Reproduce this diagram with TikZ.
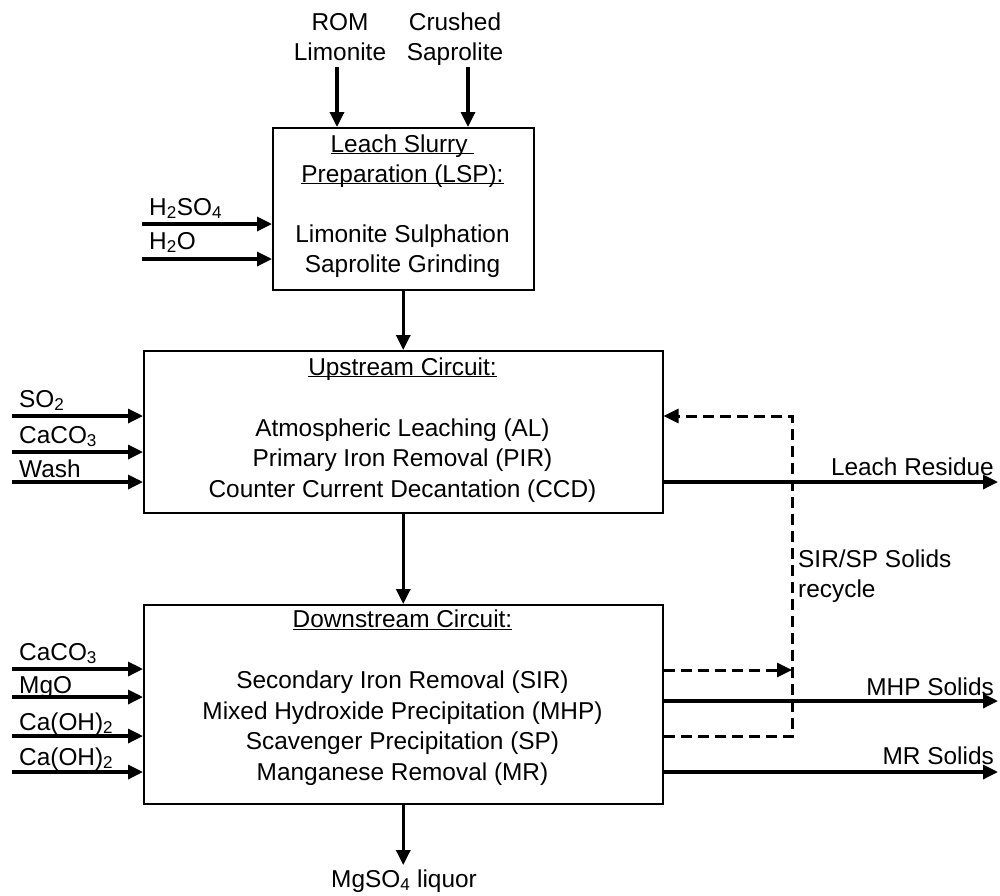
\documentclass[tikz,border=0pt]{standalone}
\usepackage{fontspec}
\setmainfont{Liberation Sans}
\usetikzlibrary{arrows.meta}
\newcommand\myul[1]{\underline{\raisebox{0pt}[\height][0pt]{#1}}}
\begin{document}
\begin{tikzpicture}[x=1pt,y=-1pt,
  every node/.style={font=\fontsize{24.4pt}{30pt}\selectfont, inner sep=0pt},
  txt/.style={anchor=base},
  lbl/.style={anchor=base west},
  rlbl/.style={anchor=base east},
  box/.style={draw, line width=1.5pt, anchor=north west},
  arr/.style={line width=3.3pt, -{Triangle[length=15pt,width=14pt]}},
  dsh/.style={line width=3pt, dash pattern=on 11pt off 6pt},
  dsharr/.style={dsh, -{Triangle[length=15pt,width=14pt]}}]
\useasboundingbox (0,0) rectangle (1000,895);

% boxes
\node[box, minimum width=261pt, minimum height=162pt] (lsp) at (272,127) {};
\node[box, minimum width=519pt, minimum height=162pt] (up) at (143,350) {};
\node[box, minimum width=519pt, minimum height=199pt] (down) at (143,604) {};

% LSP text
\node[txt] (lspA) at (402.5,152) {\myul{Leach Slurry\ }};
\node[txt] (lspB) at (402.5,182) {\myul{Preparation (LSP):}};
\node[txt] (lspC) at (402.5,242) {Limonite Sulphation};
\node[txt] (lspD) at (402.5,272) {Saprolite Grinding};

% Upstream text
\node[txt] (upA) at (402.5,375) {\myul{Upstream Circuit:}};
\node[txt] (upB) at (402.5,436) {Atmospheric Leaching (AL)};
\node[txt] (upC) at (402.5,466.5) {Primary Iron Removal (PIR)};
\node[txt] (upD) at (402.5,497) {Counter Current Decantation (CCD)};

% Downstream text
\node[txt] (dnA) at (402.5,627.5) {\myul{Downstream Circuit:}};
\node[txt] (dnB) at (402.5,688.5) {Secondary Iron Removal (SIR)};
\node[txt] (dnC) at (402.5,719) {Mixed Hydroxide Precipitation (MHP)};
\node[txt] (dnD) at (402.5,749.5) {Scavenger Precipitation (SP)};
\node[txt] (dnE) at (402.5,780) {Manganese Removal (MR)};

% top feeds
\node[txt] (romA) at (340,30) {ROM};
\node[txt] (romB) at (340,60) {Limonite};
\node[txt] (crA) at (455,30) {Crushed};
\node[txt] (crB) at (455,60) {Saprolite};
\coordinate (romS) at (337,67);
\coordinate (crS) at (468,67);
\draw[arr] (romS) -- (romS |- lsp.north);
\draw[arr] (crS) -- (crS |- lsp.north);

% LSP left feeds
\coordinate (h2so4) at (142,224);
\coordinate (h2o) at (142,259);
\node[lbl] (h2so4L) at (149,215) {H\textsubscript{2}SO\textsubscript{4}};
\node[lbl] (h2oL) at (149,249) {H\textsubscript{2}O};
\draw[arr] (h2so4) -- (h2so4 -| lsp.west);
\draw[arr] (h2o) -- (h2o -| lsp.west);

% main vertical flow
\draw[arr] (lsp.south) -- (up.north);
\draw[arr] (up.south) -- (down.north);
\coordinate (mgs) at (402.5,865);
\draw[arr] (down.south) -- (down.south |- mgs);
\node[txt] (mgsL) at (404,887) {MgSO\textsubscript{4} liquor};

% upstream left feeds
\coordinate (so2) at (12,416);
\coordinate (caco3a) at (12,452);
\coordinate (wash) at (12,482);
\node[lbl] (so2L) at (19,407) {SO\textsubscript{2}};
\node[lbl] (caco3aL) at (19,443) {CaCO\textsubscript{3}};
\node[lbl] (washL) at (19,477) {Wash};
\draw[arr] (so2) -- (so2 -| up.west);
\draw[arr] (caco3a) -- (caco3a -| up.west);
\draw[arr] (wash) -- (wash -| up.west);

% downstream left feeds
\coordinate (caco3b) at (12,669);
\coordinate (mgo) at (12,697);
\coordinate (caoha) at (12,736);
\coordinate (caohb) at (12,772);
\node[lbl] (caco3bL) at (19,660) {CaCO\textsubscript{3}};
\node[lbl] (mgoL) at (19,693) {MgO};
\node[lbl] (caohaL) at (19,730) {Ca(OH)\textsubscript{2}};
\node[lbl] (caohbL) at (19,765) {Ca(OH)\textsubscript{2}};
\draw[arr] (caco3b) -- (caco3b -| down.west);
\draw[arr] (mgo) -- (mgo -| down.west);
\draw[arr] (caoha) -- (caoha -| down.west);
\draw[arr] (caohb) -- (caohb -| down.west);

% right outputs
\coordinate (lr) at (998,482);
\coordinate (mhp) at (998,701);
\coordinate (mr) at (998,772);
\draw[arr] (lr -| up.east) -- (lr);
\draw[arr] (mhp -| down.east) -- (mhp);
\draw[arr] (mr -| down.east) -- (mr);
\node[rlbl] (lrL) at (994,475) {Leach Residue};
\node[rlbl] (mhpL) at (994,695) {MHP Solids};
\node[rlbl] (mrL) at (994,764) {MR Solids};

% recycle
\coordinate (r1) at (792,736);
\coordinate (r2) at (792,416);
\coordinate (r3) at (792,670);
\draw[dsharr] (r1 -| down.east) -- (r1) -- (r2) -- (r2 -| up.east);
\draw[dsharr] (r3 -| down.east) -- (r3);
\node[lbl] (recA) at (798,567) {SIR/SP Solids};
\node[lbl] (recB) at (798,597) {recycle};
\end{tikzpicture}
\end{document}
